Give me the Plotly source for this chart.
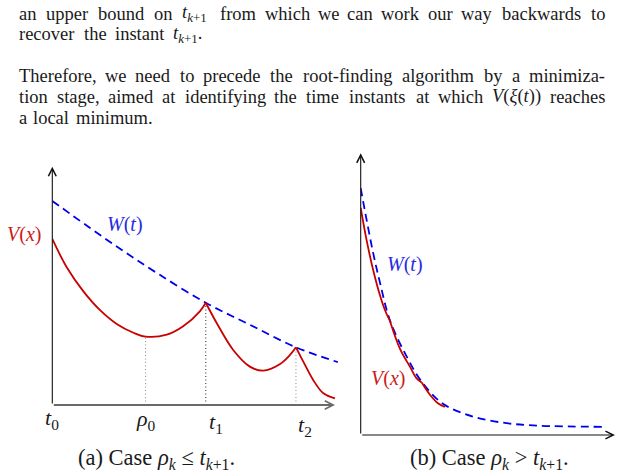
import plotly.graph_objects as go

W, H = 622, 476

# ---------------- data: panel (a) ----------------
A_W_X = [0, 1.25, 2.5, 3.75, 5.43, 7.0, 8.62, 10.1]
A_W_Y = [8.56, 7.5, 6.47, 5.5, 4.29, 3.36, 2.42, 1.80]
A_V1_X = [0, 0.51, 1.10, 1.69, 2.28, 2.87, 3.30, 4.05, 4.63, 5.22, 5.43]
A_V1_Y = [6.97, 5.78, 4.77, 3.98, 3.40, 3.03, 2.87, 2.95, 3.30, 3.93, 4.29]
A_V2_X = [5.43, 5.82, 6.40, 6.99, 7.46, 8.06, 8.41, 8.62]
A_V2_Y = [4.29, 3.43, 2.31, 1.61, 1.44, 1.72, 2.10, 2.42]
A_V3_X = [8.62, 8.88, 9.23, 9.59, 10.0]
A_V3_Y = [2.42, 1.82, 1.05, 0.49, 0.28]
A_TICK_X = [0, 3.30, 5.43, 8.62]
A_TICK_LABELS = ["<i>t</i><sub>0</sub>", "<i>ρ</i><sub>0</sub>",
                 "<i>t</i><sub>1</sub>", "<i>t</i><sub>2</sub>"]
A_DROP_X = [3.30, 5.43, 8.62]
A_DROP_Y = [2.87, 4.29, 2.42]

# ---------------- data: panel (b) ----------------
B_W_X = [0, 0.24, 0.50, 0.76, 1.15, 1.81, 2.40, 3.25, 4.43, 5.74, 7.05, 9.61]
B_W_Y = [8.76, 7.6, 6.42, 5.4, 4.07, 2.78, 1.89, 1.1, 0.65, 0.42, 0.33, 0.29]
B_V1_X = [0, 0.24, 0.50, 0.76, 0.96, 1.15]
B_V1_Y = [8.06, 6.88, 5.82, 4.95, 4.42, 4.05]
B_V2_X = [1.15, 1.55, 1.94, 2.20, 2.40]
B_V2_Y = [4.05, 3.05, 2.42, 2.01, 1.86]
B_V3_X = [2.40, 2.73, 3.05, 3.31]
B_V3_Y = [1.86, 1.42, 1.12, 1.0]

# ---------------- text ----------------
LABEL_V = "<i>V</i>(<i>x</i>)"
LABEL_W = "<i>W</i>(<i>t</i>)"
CAPTION_A = "(a) Case <i>ρ</i><sub><i>k</i></sub> ≤ <i>t</i><sub><i>k</i>+1</sub>."
CAPTION_B = "(b) Case <i>ρ</i><sub><i>k</i></sub> > <i>t</i><sub><i>k</i>+1</sub>."
TK1 = "<i>t</i><sub><i>k</i>+1</sub>"
PARA_LINES = [
    ["an", "upper", "bound", "on", TK1, "from", "which", "we", "can", "work",
     "our", "way", "backwards", "to"],
    ["recover", "the", "instant", TK1 + "."],
    ["Therefore,", "we", "need", "to", "precede", "the", "root-finding",
     "algorithm", "by", "a", "minimiza-"],
    ["tion", "stage,", "aimed", "at", "identifying", "the", "time", "instants",
     "at", "which", "<i>V</i>(<i>ξ</i>(<i>t</i>))", "reaches"],
    ["a", "local", "minimum."],
]
# layout: word centres (px) and line centres (px)
PARA_X = [
    [27.7, 67.4, 121.8, 163.5, 195.0, 238.8, 287.5, 328.7, 360.4, 400.8,
     440.7, 477.1, 541.4, 598.2],
    [46.3, 95.0, 140.2, 187.5],
    [58.2, 116.5, 152.8, 186.6, 231.8, 281.5, 347.4, 438.7, 494.0, 516.3, 567.4],
    [33.6, 78.2, 130.6, 168.7, 225.1, 285.9, 322.4, 377.4, 422.9, 460.4,
     516.2, 577.5],
    [22.75, 50.9, 114.2],
]
PARA_Y = [13.5, 34.5, 76.5, 97, 117.5]

SERIF = "Liberation Serif"
RED = "#c80000"
BLUE = "#0000ee"


def px(x):
    return x / W


def py(y):
    return 1 - y / H


fig = go.Figure()


def line(xs, ys, axes, color, width=1.8, dash="solid"):
    fig.add_trace(go.Scatter(
        x=xs, y=ys, xaxis=axes[0], yaxis=axes[1], mode="lines",
        line=dict(color=color, width=width, dash=dash, shape="spline"),
        hoverinfo="skip", showlegend=False))


# panel (a)
for xd, yd in zip(A_DROP_X, A_DROP_Y):
    col = "#222222" if xd == A_DROP_X[1] else "#8a8a8a"
    fig.add_trace(go.Scatter(
        x=[xd, xd], y=[0, yd], xaxis="x", yaxis="y", mode="lines",
        line=dict(color=col, width=1, dash="1px,2.5px"),
        hoverinfo="skip", showlegend=False))
line(A_W_X, A_W_Y, ("x", "y"), BLUE, 1.8, "8px,5px")
line(A_V1_X, A_V1_Y, ("x", "y"), RED)
line(A_V2_X, A_V2_Y, ("x", "y"), RED)
line(A_V3_X, A_V3_Y, ("x", "y"), RED)

# panel (b)
line(B_W_X, B_W_Y, ("x2", "y2"), BLUE, 1.8, "8px,5px")
line(B_V1_X, B_V1_Y, ("x2", "y2"), RED)
line(B_V2_X, B_V2_Y, ("x2", "y2"), RED)
line(B_V3_X, B_V3_Y, ("x2", "y2"), RED)

ax_common = dict(showgrid=False, zeroline=False, showline=False,
                 showticklabels=False, ticks="", fixedrange=True)

fig.update_layout(
    width=W, height=H, margin=dict(l=0, r=0, t=0, b=0),
    paper_bgcolor="white", plot_bgcolor="white",
    xaxis=dict(domain=[px(52.3), px(338.5)], range=[0, 10.125], **ax_common),
    yaxis=dict(domain=[py(405), py(160)], range=[0, 10.28], **ax_common),
    xaxis2=dict(domain=[px(360.7), px(620)], range=[0, 10.197], anchor="y2",
                **ax_common),
    yaxis2=dict(domain=[py(435), py(150)], range=[0, 10.117], anchor="x2",
                **ax_common),
)

ann = []


def arrow(xr, yr, x, y, x0, y0, color, width, size):
    ann.append(dict(xref=xr, yref=yr, axref=xr, ayref=yr, x=x, y=y, ax=x0,
                    ay=y0, text="", showarrow=True, arrowhead=5,
                    arrowwidth=width, arrowsize=size, arrowcolor=color,
                    standoff=0, startstandoff=0))


arrow("x", "y", 10.0, 0, 0, 0, "#6a6a6a", 2.2, 0.75)
arrow("x", "y", 0, 10.0, 0, 0, "#111111", 1.1, 1.4)
arrow("x2", "y2", 10.0, 0, 0, 0, "#111111", 1.1, 1.4)
arrow("x2", "y2", 0, 10.0, 0, 0, "#111111", 1.1, 1.4)


def text(x, y, s, size, color="#1a1a1a", xref="paper", xshift=0,
         xanchor="center"):
    ann.append(dict(xref=xref, yref="paper", x=x, y=y, text=s,
                    showarrow=False, xanchor=xanchor, yanchor="middle",
                    xshift=xshift,
                    font=dict(family=SERIF, size=size, color=color)))


# paragraph
for words, xs, yc in zip(PARA_LINES, PARA_X, PARA_Y):
    for wd, xc in zip(words, xs):
        text(px(xc), py(yc), wd, 18.5)

# panel (a) labels
text(px(24), py(234), LABEL_V, 20, "#cc1a1a")
text(px(125), py(224), LABEL_W, 20, "#2a2ae0")
tick_y = [419, 420, 423, 426]
tick_shift = [0, 0, 10, 9.5]
for xv, lab, yv, sh in zip(A_TICK_X, A_TICK_LABELS, tick_y, tick_shift):
    text(xv, py(yv), lab, 22, xref="x", xshift=sh)
text(px(156.5), py(459), CAPTION_A, 22.5)

# panel (b) labels
text(px(405), py(264), LABEL_W, 20, "#2a2ae0")
text(px(388), py(378), LABEL_V, 20, "#cc1a1a")
text(px(489), py(459), CAPTION_B, 22.5)

fig.update_layout(annotations=ann)
fig.write_html("out.html")
